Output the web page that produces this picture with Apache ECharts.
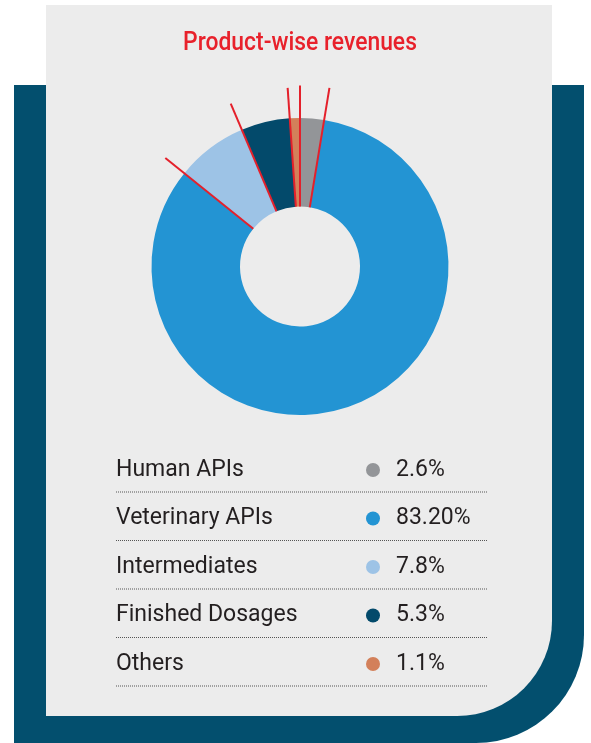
<!DOCTYPE html>
<html>
<head>
<meta charset="utf-8">
<script src="https://cdn.jsdelivr.net/npm/echarts@6/dist/echarts.min.js"></script>
<style>
html, body { margin: 0; padding: 0; background: #fff; }
#chart { width: 591px; height: 743px; }
</style>
</head>
<body>
<div id="chart"></div>
<script>
var segments = ['Human APIs', 'Veterinary APIs', 'Intermediates', 'Finished Dosages', 'Others'];
var shareText = ['2.6', '83.20', '7.8', '5.3', '1.1'];
var colors = ['#939598', '#2394d3', '#9dc3e6', '#034a6b', '#d3805a'];
// how far each red divider sticks out (one per boundary, after each slice)
var dividerEnds = [181, 173, 177, 179, 181];

var shares = shareText.map(Number);
var chart = echarts.init(document.getElementById('chart'));

// cumulative boundaries for the red dividers
var bounds = [];
var acc = 0;
shares.forEach(function (v) { acc += v; bounds.push(acc); });

var rich = {
    n: { width: 250, fontSize: 23, color: '#231f20', fontFamily: 'Roboto', verticalAlign: 'middle' },
    v: { fontSize: 23, color: '#231f20', fontFamily: 'Roboto', padding: [0, 0, 0, 16], verticalAlign: 'middle' }
};
colors.forEach(function (c, i) {
    rich['d' + i] = { width: 14, height: 14, borderRadius: 7, backgroundColor: c, verticalAlign: 'middle' };
});

var graphics = [
    { type: 'rect', shape: { x: 14, y: 85, width: 570, height: 658, r: [0, 0, 108, 0] }, style: { fill: '#034f6e' } },
    { type: 'rect', shape: { x: 46, y: 5, width: 506, height: 711, r: [0, 0, 95, 0] }, style: { fill: '#ececec' } },
    // narrow title face: squeeze Roboto horizontally
    { type: 'text', x: 300, y: 43, scaleX: 0.88, style: { text: 'Product-wise revenues', fill: '#e8212b', font: '500 26px Roboto, sans-serif', textAlign: 'center', textVerticalAlign: 'middle' } }
];
segments.forEach(function (s, i) {
    var y = 492 + i * 48.5;
    graphics.push({ type: 'line', shape: { x1: 116, y1: y, x2: 487, y2: y }, style: { stroke: '#555', lineWidth: 1, lineDash: [1, 1] } });
});

var series = [{
    name: 'Revenue',
    type: 'pie',
    radius: [60, 148.5],
    center: [300, 266.5],
    startAngle: 90,
    clockwise: true,
    avoidLabelOverlap: false,
    label: { show: false },
    labelLine: { show: false },
    emphasis: { disabled: true },
    itemStyle: { borderWidth: 0 },
    data: segments.map(function (s, i) {
        return { name: s, value: shares[i], itemStyle: { color: colors[i] } };
    })
}];
bounds.forEach(function (b, i) {
    series.push({
        type: 'line',
        coordinateSystem: 'polar',
        z: 5,
        symbol: 'none',
        silent: true,
        lineStyle: { color: '#e4202b', width: 2 },
        data: [[60, b], [dividerEnds[i], b]]
    });
});

var option = {
    animation: false,
    graphic: graphics,
    polar: { center: [300, 266.5], radius: 190 },
    angleAxis: { type: 'value', min: 0, max: 100, startAngle: 90, clockwise: true, show: false },
    radiusAxis: { type: 'value', min: 0, max: 190, show: false },
    legend: {
        orient: 'vertical',
        left: 111,
        top: 458.5,
        padding: 0,
        itemGap: 25.5,
        itemWidth: 0,
        itemHeight: 0,
        selectedMode: false,
        data: segments,
        formatter: function (name) {
            var i = segments.indexOf(name);
            return '{n|' + name + '}{d' + i + '|}{v|' + shareText[i] + '%}';
        },
        textStyle: { rich: rich }
    },
    series: series
};
chart.setOption(option);
</script>
</body>
</html>
